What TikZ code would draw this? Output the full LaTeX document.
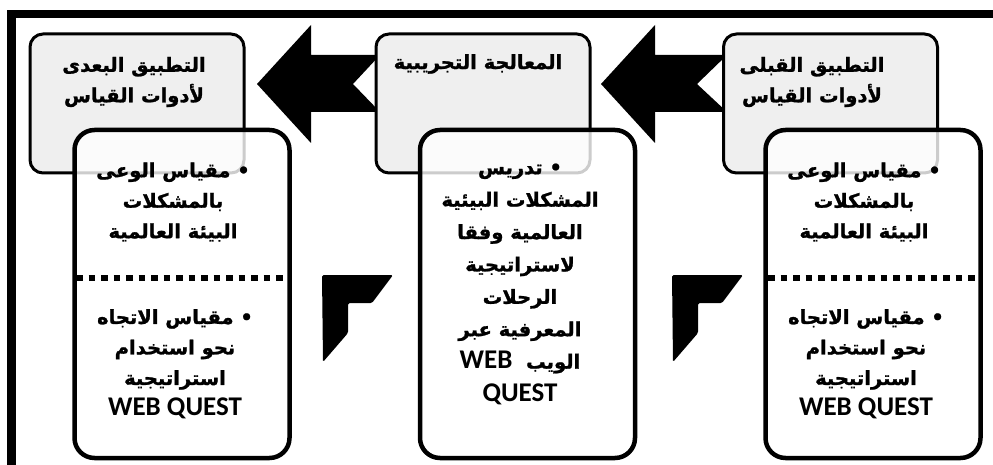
\documentclass[tikz,border=0pt]{standalone}
\usepackage{fontspec}
\TeXXeTstate=1
\newfontfamily\arabicfont[Script=Arabic,BoldFeatures={FakeBold=1.2}]{DejaVu Sans}
\newfontfamily\latinfont{Carlito}
\newcommand\artxt[1]{{\arabicfont\bfseries\beginR #1\endR}}
\newcommand\wqtxt[1]{{\latinfont\bfseries\fontsize{27}{30}\selectfont #1}}
\definecolor{boxgray}{HTML}{EFEFEF}
\begin{document}
\begin{tikzpicture}[x=1pt,y=-1pt,
  graybox/.style={draw=black,line width=3pt,fill=boxgray,rounded corners=13pt,minimum width=214pt,minimum height=139pt,anchor=north west,inner sep=0pt,outer sep=0pt},
  whitebox/.style={draw=black,line width=4.5pt,fill=white,fill opacity=0.8,rounded corners=20pt,minimum width=215pt,minimum height=328pt,anchor=north west,inner sep=0pt,outer sep=0pt},
  bigarrow/.style={fill=black},
  cornermark/.style={fill=black,rounded corners=1.5pt},
  dotsep/.style={line width=6pt,dash pattern=on 6.5pt off 6pt},
  txt/.style={align=center,inner sep=0pt,font=\fontsize{19.5}{30.5}\selectfont},
]
\useasboundingbox[fill=white] (0,0) rectangle (993,465);
% frame
\fill[black] (7,10) rectangle (16,465);
\fill[black] (7,10) rectangle (993,18);
% arrows
\fill[bigarrow] (257,84) -- (311,25) -- (311,55) -- (380,55) -- (353,84) -- (380,112) -- (311,112) -- (311,143) -- cycle;
\fill[bigarrow] (601,84) -- (655,25) -- (655,55) -- (727,55) -- (697,84) -- (727,112) -- (655,112) -- (655,143) -- cycle;
% gray boxes
\node[graybox] (g1) at (30,34) {};
\node[graybox] (g2) at (376,34) {};
\node[graybox] (g3) at (723.5,34) {};
% white boxes
\node[whitebox] (w1) at (74.5,130) {};
\node[whitebox] (w2) at (420,130) {};
\node[whitebox] (w3) at (765.5,130) {};
% dotted separators
\coordinate (d1a) at (76,278); \coordinate (d1b) at (291,278);
\coordinate (d3a) at (768,278); \coordinate (d3b) at (982,278);
\draw[dotsep] (d1a) -- (d1b);
\draw[dotsep] (d3a) -- (d3b);
% corner marks
\fill[cornermark] (322,275) -- (393,275) -- (372,303) -- (348,303) -- (348,333) -- (323,362) -- cycle;
\fill[cornermark] (672,275) -- (743,275) -- (722,303) -- (698,303) -- (698,333) -- (673,362) -- cycle;
% gray box texts
\node[txt] (tg1) at (134,82) {\artxt{التطبيق البعدى}\\\artxt{لأدوات القياس}};
\node[txt] (tg2) at (478,64) {\artxt{المعالجة التجريبية}};
\node[txt] (tg3) at (812,82) {\artxt{التطبيق القبلى}\\\artxt{لأدوات القياس}};
% left white box texts
\node[txt] (tw1a) at (173,202) {\artxt{• مقياس الوعى}\\\artxt{بالمشكلات}\\\artxt{البيئة العالمية}};
\node[txt] (tw1b) at (175,364) {\artxt{• مقياس الاتجاه}\\\artxt{نحو استخدام}\\\artxt{استراتيجية}\\\wqtxt{WEB QUEST}};
% middle white box text
\node[txt,font=\fontsize{19.5}{32.4}\selectfont] (tw2) at (520,284) {\artxt{• تدريس}\\\artxt{المشكلات البيئية}\\\artxt{العالمية وفقا}\\\artxt{لاستراتيجية}\\\artxt{الرحلات}\\\artxt{المعرفية عبر}\\{\arabicfont\bfseries\beginR الويب \ \beginL\wqtxt{WEB}\endL\endR}\\\wqtxt{QUEST}};
% right white box texts
\node[txt] (tw3a) at (864,202) {\artxt{• مقياس الوعى}\\\artxt{بالمشكلات}\\\artxt{البيئة العالمية}};
\node[txt] (tw3b) at (866,364) {\artxt{• مقياس الاتجاه}\\\artxt{نحو استخدام}\\\artxt{استراتيجية}\\\wqtxt{WEB QUEST}};
\end{tikzpicture}
\end{document}
